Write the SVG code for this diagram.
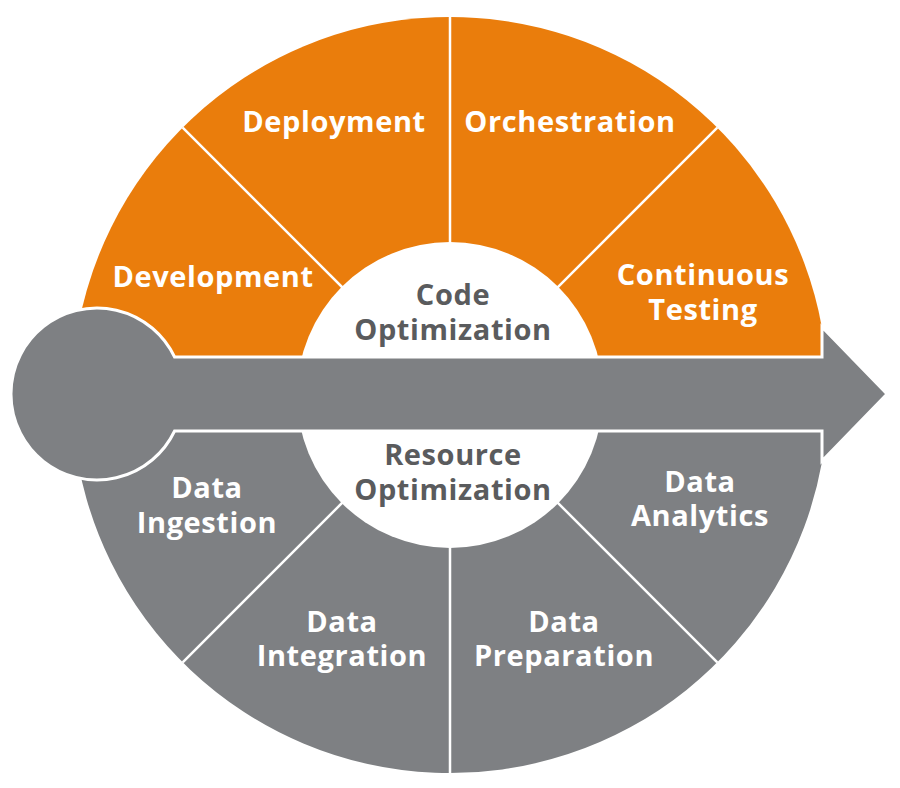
<svg xmlns="http://www.w3.org/2000/svg" width="900" height="788" viewBox="0 0 900 788">
  <style>
    .lbl { font-family: "Open Sans", "Noto Sans", "Liberation Sans", sans-serif; font-weight: 700; font-size: 29px; text-anchor: middle; fill: #ffffff; letter-spacing: 0.6px; }
    .ctr { fill: #5a5b5d; }
    .div { stroke: #ffffff; stroke-width: 2.5; fill: none; }
  </style>
  <rect width="900" height="788" fill="#ffffff"/>
  <g id="top-half">
    <path d="M 73.9 357 A 378 378 0 0 1 822 327.9 L 822 357 Z" fill="#ea7d0c"/>
  </g>
  <g id="bottom-half">
    <path d="M 73.8 432 L 822 432 L 822 462.1 A 378 378 0 0 1 73.8 432 Z" fill="#7e8083"/>
  </g>
  <g id="dividers">
    <line class="div" x1="450" y1="395" x2="182.7" y2="127.7"/>
    <line class="div" x1="450" y1="395" x2="450" y2="17"/>
    <line class="div" x1="450" y1="395" x2="717.3" y2="127.7"/>
    <line class="div" x1="450" y1="395" x2="182.7" y2="662.3"/>
    <line class="div" x1="450" y1="395" x2="450" y2="773"/>
    <line class="div" x1="450" y1="395" x2="717.3" y2="662.3"/>
  </g>
  <g id="center">
    <circle cx="450" cy="395" r="153" fill="#ffffff"/>
  </g>
  <g id="arrow">
    <path d="M 174.6 357 L 822 357 L 822 327 L 887 394 L 822 461 L 822 431 L 174.6 431 A 86 86 0 1 1 174.6 357 Z" fill="#7e8083" stroke="#ffffff" stroke-width="3" stroke-linejoin="miter"/>
  </g>
  <g id="development"><text class="lbl" x="213" y="287">Development</text></g>
  <g id="deployment"><text class="lbl" x="334" y="132">Deployment</text></g>
  <g id="orchestration"><text class="lbl" x="570" y="132">Orchestration</text></g>
  <g id="continuous-testing"><text class="lbl" x="703" y="285">Continuous</text><text class="lbl" x="703" y="320">Testing</text></g>
  <g id="code-optimization"><text class="lbl ctr" x="453" y="305">Code</text><text class="lbl ctr" x="453" y="340">Optimization</text></g>
  <g id="resource-optimization"><text class="lbl ctr" x="453" y="465">Resource</text><text class="lbl ctr" x="453" y="500">Optimization</text></g>
  <g id="data-ingestion"><text class="lbl" x="207" y="498">Data</text><text class="lbl" x="207" y="533">Ingestion</text></g>
  <g id="data-integration"><text class="lbl" x="342" y="632">Data</text><text class="lbl" x="342" y="666">Integration</text></g>
  <g id="data-preparation"><text class="lbl" x="564" y="632">Data</text><text class="lbl" x="564" y="666">Preparation</text></g>
  <g id="data-analytics"><text class="lbl" x="700" y="492">Data</text><text class="lbl" x="700" y="526">Analytics</text></g>
</svg>
